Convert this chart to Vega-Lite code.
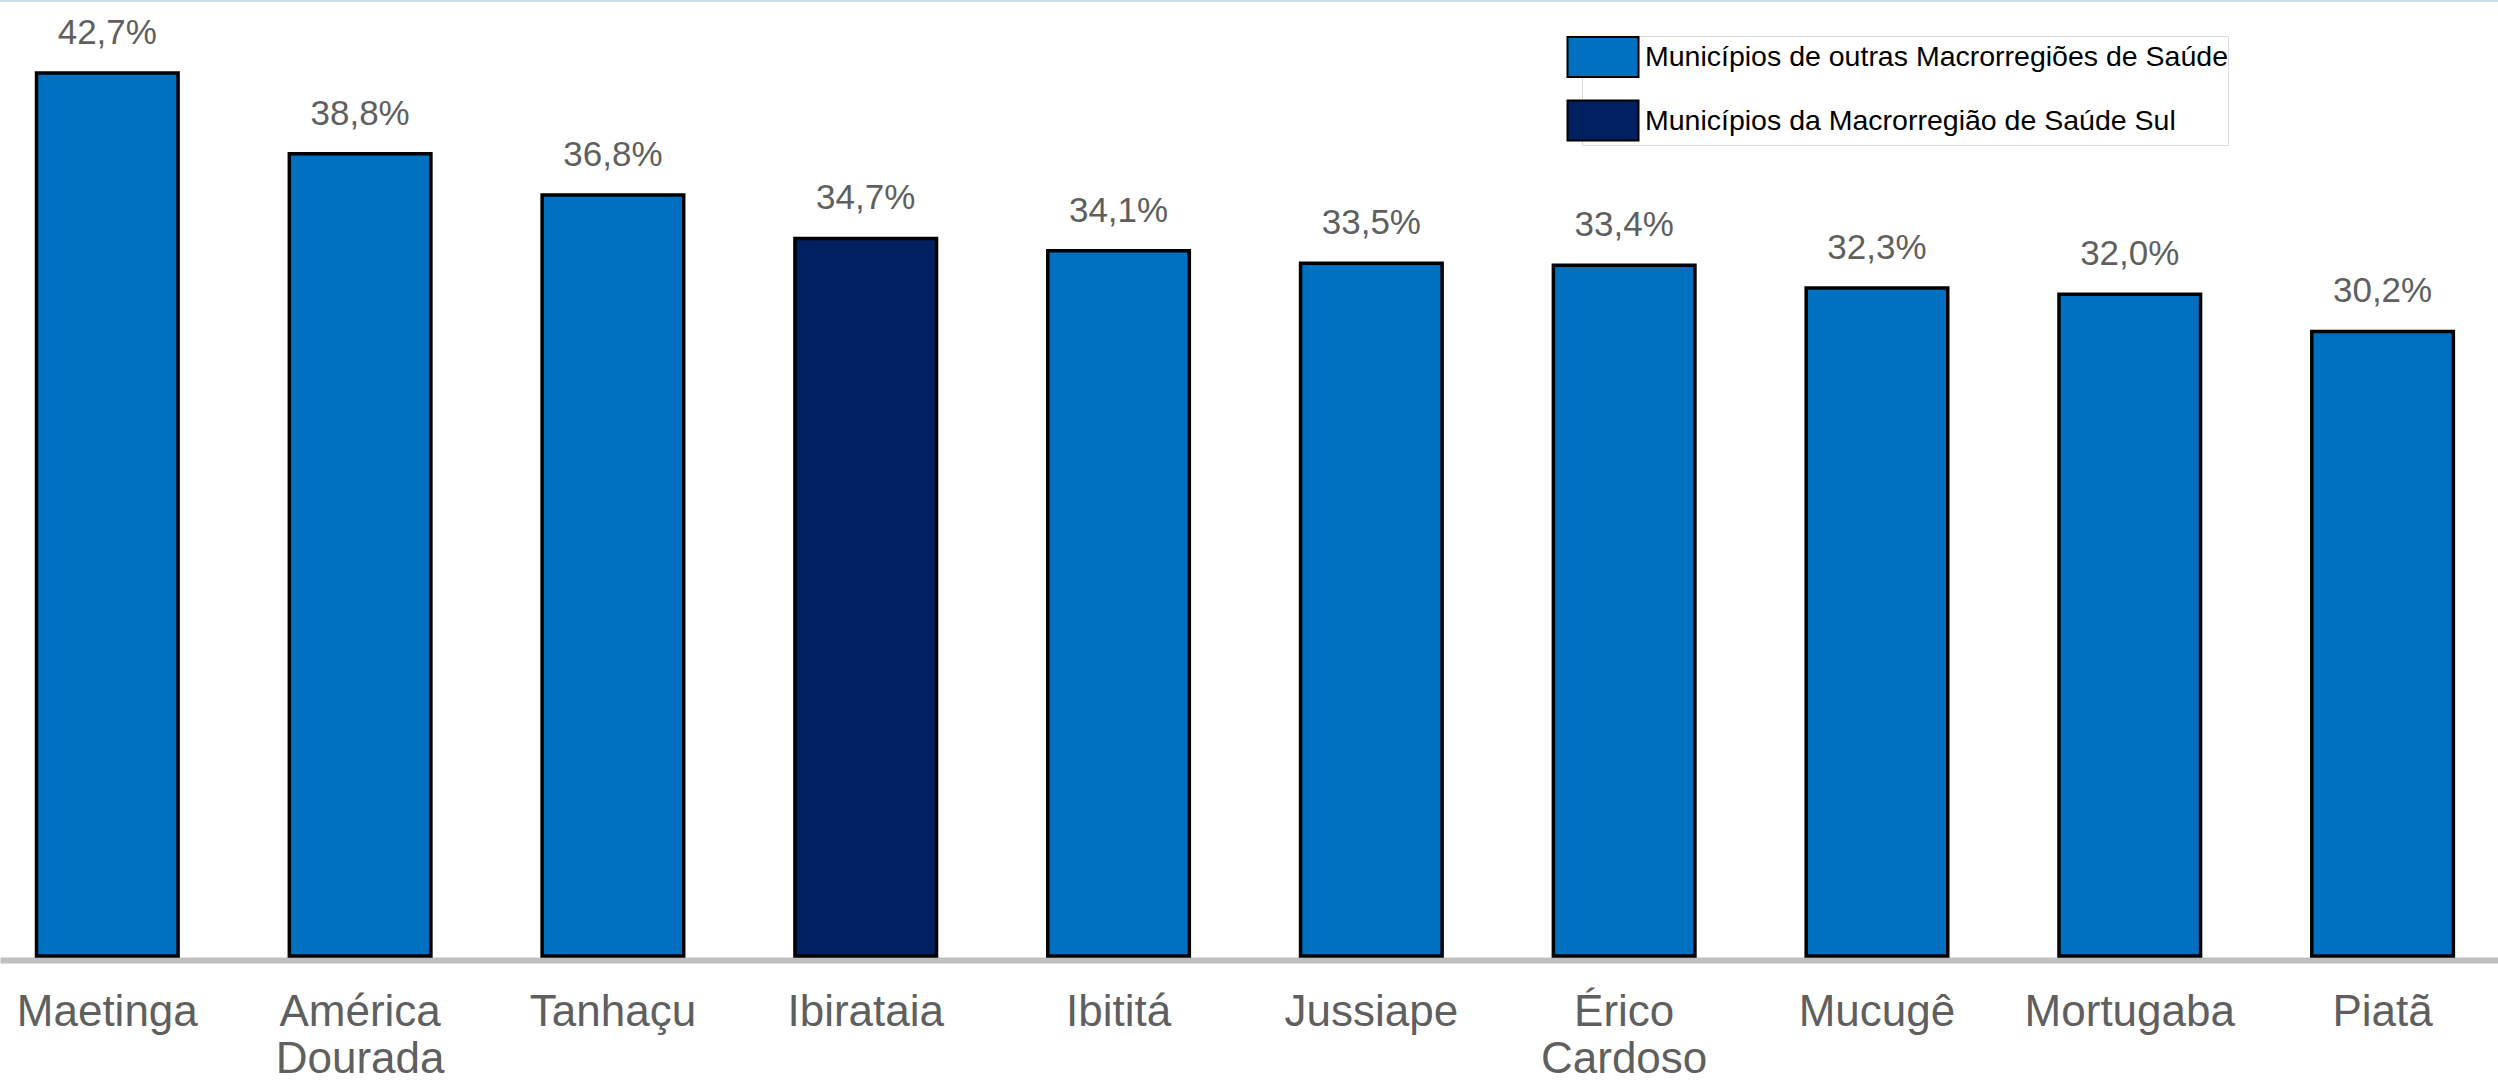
{
  "$schema": "https://vega.github.io/schema/vega-lite/v6.json",
  "width": 2498,
  "height": 956,
  "autosize": {"type": "none"},
  "padding": {"left": 0, "top": 0, "right": 0, "bottom": 126},
  "background": "#ffffff",
  "config": {"view": {"stroke": null}, "font": "Liberation Sans"},
  "data": {
    "values": [
      {"municipio": "Maetinga", "valor": 42.7, "rotulo": "42,7%", "grupo": "Municípios de outras Macrorregiões de Saúde"},
      {"municipio": "América Dourada", "valor": 38.8, "rotulo": "38,8%", "grupo": "Municípios de outras Macrorregiões de Saúde"},
      {"municipio": "Tanhaçu", "valor": 36.8, "rotulo": "36,8%", "grupo": "Municípios de outras Macrorregiões de Saúde"},
      {"municipio": "Ibirataia", "valor": 34.7, "rotulo": "34,7%", "grupo": "Municípios da Macrorregião de Saúde Sul"},
      {"municipio": "Ibititá", "valor": 34.1, "rotulo": "34,1%", "grupo": "Municípios de outras Macrorregiões de Saúde"},
      {"municipio": "Jussiape", "valor": 33.5, "rotulo": "33,5%", "grupo": "Municípios de outras Macrorregiões de Saúde"},
      {"municipio": "Érico Cardoso", "valor": 33.4, "rotulo": "33,4%", "grupo": "Municípios de outras Macrorregiões de Saúde"},
      {"municipio": "Mucugê", "valor": 32.3, "rotulo": "32,3%", "grupo": "Municípios de outras Macrorregiões de Saúde"},
      {"municipio": "Mortugaba", "valor": 32.0, "rotulo": "32,0%", "grupo": "Municípios de outras Macrorregiões de Saúde"},
      {"municipio": "Piatã", "valor": 30.2, "rotulo": "30,2%", "grupo": "Municípios de outras Macrorregiões de Saúde"}
    ]
  },
  "layer": [
    {
      "mark": {"type": "rule", "color": "#CFDCEA", "strokeWidth": 4},
      "encoding": {"y": {"datum": 46.23, "type": "quantitative", "scale": {"domain": [0, 46.23], "nice": false}, "axis": null}}
    },
    {
      "mark": {"type": "bar", "stroke": "#000000", "strokeWidth": 3.5},
      "encoding": {
        "x": {
          "field": "municipio",
          "type": "nominal",
          "sort": null,
          "scale": {"paddingInner": 0.44, "paddingOuter": 0.1605, "align": 0.45},
          "axis": {
            "title": null,
            "orient": "bottom",
            "offset": 4,
            "ticks": false,
            "tickSize": 0,
            "domain": true,
            "domainColor": "#BFBFBF",
            "domainWidth": 6,
            "labelAngle": 0,
            "labelFont": "Liberation Sans",
            "labelFontSize": 44,
            "labelColor": "#5f5f5f",
            "labelBaseline": "alphabetic",
            "labelPadding": 65,
            "labelLineHeight": 47,
            "labelLimit": 0,
            "labelExpr": "split(datum.label, ' ')"
          }
        },
        "y": {"field": "valor", "type": "quantitative", "axis": null},
        "color": {
          "field": "grupo",
          "type": "nominal",
          "scale": {
            "domain": ["Municípios de outras Macrorregiões de Saúde", "Municípios da Macrorregião de Saúde Sul"],
            "range": ["#0070C0", "#002060"]
          },
          "legend": {
            "title": null,
            "orient": "none",
            "legendX": 1582,
            "legendY": 36,
            "direction": "vertical",
            "padding": 0,
            "strokeColor": "#D9D9D9",
            "symbolType": "M-1.775,-1H1.775V1H-1.775Z",
            "symbolSize": 1600,
            "symbolStrokeColor": "#000000",
            "symbolStrokeWidth": 2,
            "symbolOpacity": 1,
            "rowPadding": 15.5,
            "labelFont": "Liberation Sans",
            "labelFontSize": 28.5,
            "labelColor": "#000000",
            "labelOffset": 21,
            "labelLimit": 0,
            "encode": {
              "symbols": {
                "update": {
                  "fill": {"value": {"expr": "datum.value === 'Municípios da Macrorregião de Saúde Sul' ? '#1F4E79' : '#0070C0'"}},
                  "stroke": {"value": "#000000"},
                  "strokeWidth": {"value": 2},
                  "opacity": {"value": 1}
                }
              }
            }
          }
        }
      }
    },
    {
      "mark": {"type": "text", "baseline": "alphabetic", "align": "center", "dy": -29, "font": "Liberation Sans", "fontSize": 35, "color": "#5f5f5f"},
      "encoding": {
        "x": {"field": "municipio", "type": "nominal", "sort": null},
        "y": {"field": "valor", "type": "quantitative"},
        "text": {"field": "rotulo"}
      }
    }
  ]
}
